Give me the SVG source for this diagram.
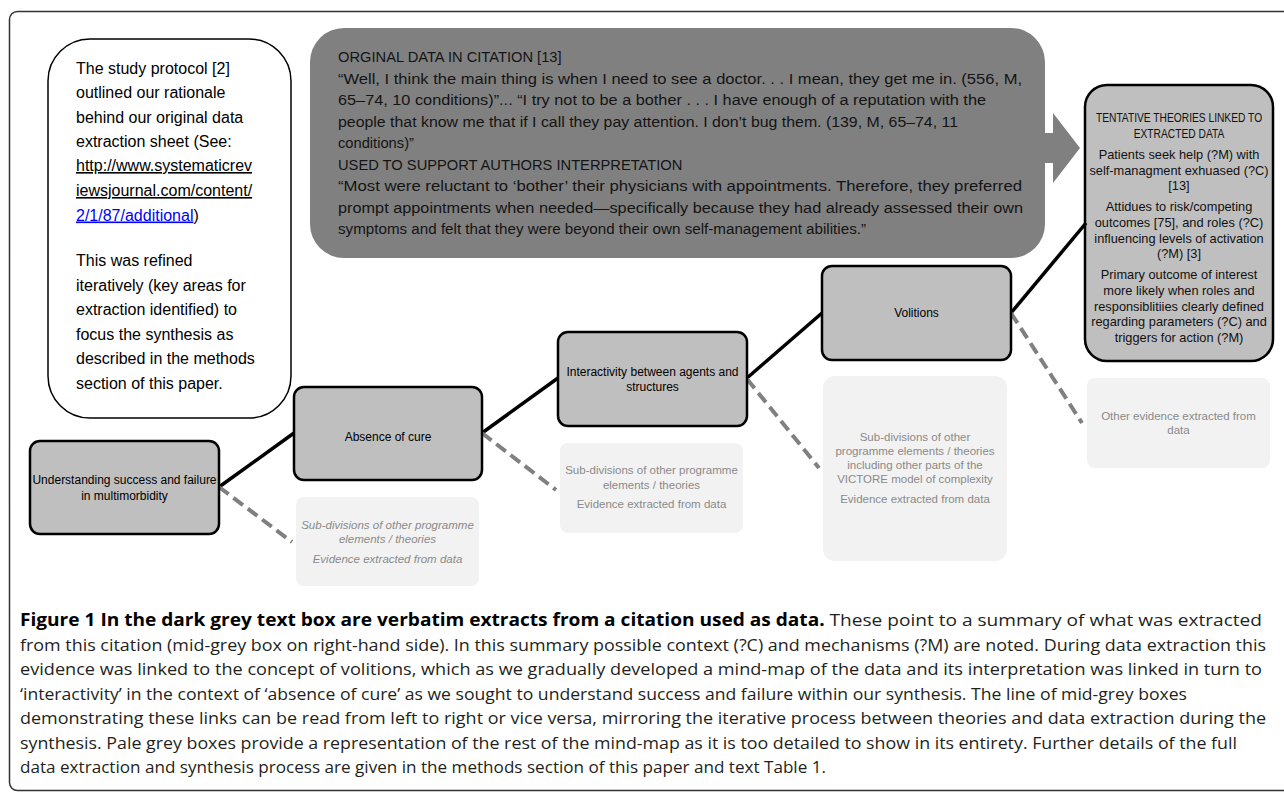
<svg xmlns="http://www.w3.org/2000/svg" width="1284" height="793" viewBox="0 0 1284 793">
<style>
.frame{fill:none;stroke:#333;stroke-width:1.5}
.node rect{fill:#bfbfbf;stroke:#000;stroke-width:2.5}
.node text{font-family:"Liberation Sans",Arial,sans-serif;font-size:12px;fill:#000;text-anchor:middle}
.pale rect{fill:#f2f2f2;stroke:none}
.pale text{font-family:"Liberation Sans",Arial,sans-serif;font-size:11.5px;fill:#8a8a8a;text-anchor:middle}
.note text{font-family:"Liberation Sans",Arial,sans-serif;font-size:16px;fill:#000}
.link{fill:#0000ff;text-decoration:underline}
.dark text{font-family:"Liberation Sans",Arial,sans-serif;font-size:14.7px;fill:#141414}
.theory text{font-family:"Liberation Sans",Arial,sans-serif;font-size:12.8px;fill:#111;text-anchor:middle}
.solid{stroke:#000;stroke-width:3.5;fill:none}
.dash{stroke:#808080;stroke-width:4;stroke-dasharray:12 6;fill:none}
.caption{font-family:"Open Sans","Liberation Sans",sans-serif;font-size:17px;fill:#231f20}
</style>
<rect class="frame" x="9.5" y="11.5" width="1300" height="779" rx="8"/>

<g id="note" class="note">
<rect x="48" y="39" width="243" height="379" rx="42" fill="#fff" stroke="#000" stroke-width="1.5"/>
<text x="76" y="74">The study protocol [2]</text>
<text x="76" y="98">outlined our rationale</text>
<text x="76" y="122.5">behind our original data</text>
<text x="76" y="147">extraction sheet (See:</text>
<text x="76" y="171" class="link">http://www.systematicrev</text>
<text x="76" y="196" class="link">iewsjournal.com/content/</text>
<text x="76" y="220.5"><tspan class="link">2/1/87/additional</tspan>)</text>
<text x="76" y="266">This was refined</text>
<text x="76" y="290.5">iteratively (key areas for</text>
<text x="76" y="315">extraction identified) to</text>
<text x="76" y="339.5">focus the synthesis as</text>
<text x="76" y="364">described in the methods</text>
<text x="76" y="388.5">section of this paper.</text>
</g>

<g id="citation" class="dark">
<rect x="310" y="28" width="735" height="230" rx="34" fill="#808080"/>
<path d="M1040 133 H1053 V113 L1080 148 L1053 183 V163 H1040 Z" fill="#808080"/>
<text x="338" y="62">ORGINAL DATA IN CITATION [13]</text>
<text x="338" y="83.5" textLength="684" lengthAdjust="spacingAndGlyphs">“Well, I think the main thing is when I need to see a doctor. . . I mean, they get me in. (556, M,</text>
<text x="338" y="105" textLength="648" lengthAdjust="spacingAndGlyphs">65–74, 10 conditions)”... “I try not to be a bother . . . I have enough of a reputation with the</text>
<text x="338" y="126.5" textLength="620" lengthAdjust="spacingAndGlyphs">people that know me that if I call they pay attention. I don’t bug them. (139, M, 65–74, 11</text>
<text x="338" y="148">conditions)”</text>
<text x="338" y="169.5">USED TO SUPPORT AUTHORS INTERPRETATION</text>
<text x="338" y="191" textLength="684" lengthAdjust="spacingAndGlyphs">“Most were reluctant to ‘bother’ their physicians with appointments. Therefore, they preferred</text>
<text x="338" y="212.5" textLength="685" lengthAdjust="spacingAndGlyphs">prompt appointments when needed—specifically because they had already assessed their own</text>
<text x="338" y="234" textLength="528" lengthAdjust="spacingAndGlyphs">symptoms and felt that they were beyond their own self-management abilities.”</text>
</g>

<g id="theories" class="theory">
<rect x="1085" y="85" width="188" height="276" rx="22" fill="#bfbfbf" stroke="#000" stroke-width="2.5"/>
<text transform="translate(1179,122) scale(0.8,1)" x="0" y="0">TENTATIVE THEORIES LINKED TO</text>
<text transform="translate(1179,138) scale(0.8,1)" x="0" y="0">EXTRACTED DATA</text>
<text x="1179" y="159">Patients seek help (?M) with</text>
<text x="1179" y="175">self-managment exhuased (?C)</text>
<text x="1179" y="190">[13]</text>
<text x="1179" y="211">Attidues to risk/competing</text>
<text x="1179" y="227">outcomes [75], and roles (?C)</text>
<text x="1179" y="243">influencing levels of activation</text>
<text x="1179" y="258">(?M) [3]</text>
<text x="1179" y="279">Primary outcome of interest</text>
<text x="1179" y="295">more likely when roles and</text>
<text x="1179" y="311">responsiblitiies clearly defined</text>
<text x="1179" y="326">regarding parameters (?C) and</text>
<text x="1179" y="342">triggers for action (?M)</text>
</g>

<g id="connectors">
<line class="solid" x1="219" y1="487" x2="294" y2="433"/>
<line class="solid" x1="482" y1="433" x2="558" y2="378"/>
<line class="solid" x1="747" y1="378" x2="822" y2="313"/>
<line class="solid" x1="1011" y1="313" x2="1086" y2="223"/>
<line class="dash" x1="219" y1="487" x2="292" y2="542"/>
<line class="dash" x1="482" y1="433" x2="556" y2="490"/>
<line class="dash" x1="747" y1="379" x2="819" y2="468"/>
<line class="dash" x1="1011" y1="313" x2="1082" y2="423"/>
</g>

<g id="n1" class="node">
<rect x="30" y="441" width="189" height="93" rx="10"/>
<text x="124.5" y="484">Understanding success and failure</text>
<text x="124.5" y="500">in multimorbidity</text>
</g>
<g id="n2" class="node">
<rect x="294" y="387" width="188" height="93" rx="10"/>
<text x="388" y="441">Absence of cure</text>
</g>
<g id="n3" class="node">
<rect x="558" y="332" width="189" height="94" rx="10"/>
<text x="652.5" y="376">Interactivity between agents and</text>
<text x="652.5" y="391">structures</text>
</g>
<g id="n4" class="node">
<rect x="822" y="266" width="189" height="94" rx="10"/>
<text x="916.5" y="317">Volitions</text>
</g>

<g id="p1" class="pale">
<rect x="296" y="497" width="183" height="89" rx="8"/>
<text x="387.5" y="529" font-style="italic">Sub-divisions of other programme</text>
<text x="387.5" y="543" font-style="italic">elements / theories</text>
<text x="387.5" y="563" font-style="italic">Evidence extracted from data</text>
</g>
<g id="p2" class="pale">
<rect x="560" y="443" width="183" height="90" rx="8"/>
<text x="651.5" y="474">Sub-divisions of other programme</text>
<text x="651.5" y="489">elements / theories</text>
<text x="651.5" y="508">Evidence extracted from data</text>
</g>
<g id="p3" class="pale">
<rect x="823" y="376" width="184" height="185" rx="12"/>
<text x="915" y="441">Sub-divisions of other</text>
<text x="915" y="455">programme elements / theories</text>
<text x="915" y="469">including other parts of the</text>
<text x="915" y="483">VICTORE model of complexity</text>
<text x="915" y="503">Evidence extracted from data</text>
</g>
<g id="p4" class="pale">
<rect x="1087" y="378" width="183" height="90" rx="8"/>
<text x="1178.5" y="420">Other evidence extracted from</text>
<text x="1178.5" y="434">data</text>
</g>

<g id="caption" class="caption">
<text x="20" y="626" textLength="1242" lengthAdjust="spacingAndGlyphs"><tspan font-weight="bold" fill="#000">Figure 1 In the dark grey text box are verbatim extracts from a citation used as data.</tspan> These point to a summary of what was extracted</text>
<text x="20" y="651" textLength="1246" lengthAdjust="spacingAndGlyphs">from this citation (mid-grey box on right-hand side). In this summary possible context (?C) and mechanisms (?M) are noted. During data extraction this</text>
<text x="20" y="675" textLength="1242" lengthAdjust="spacingAndGlyphs">evidence was linked to the concept of volitions, which as we gradually developed a mind-map of the data and its interpretation was linked in turn to</text>
<text x="20" y="700" textLength="1167" lengthAdjust="spacingAndGlyphs">‘interactivity’ in the context of ‘absence of cure’ as we sought to understand success and failure within our synthesis. The line of mid-grey boxes</text>
<text x="20" y="724" textLength="1246" lengthAdjust="spacingAndGlyphs">demonstrating these links can be read from left to right or vice versa, mirroring the iterative process between theories and data extraction during the</text>
<text x="20" y="749" textLength="1217" lengthAdjust="spacingAndGlyphs">synthesis. Pale grey boxes provide a representation of the rest of the mind-map as it is too detailed to show in its entirety. Further details of the full</text>
<text x="20" y="773" textLength="806" lengthAdjust="spacingAndGlyphs">data extraction and synthesis process are given in the methods section of this paper and text Table 1.</text>
</g>
</svg>
